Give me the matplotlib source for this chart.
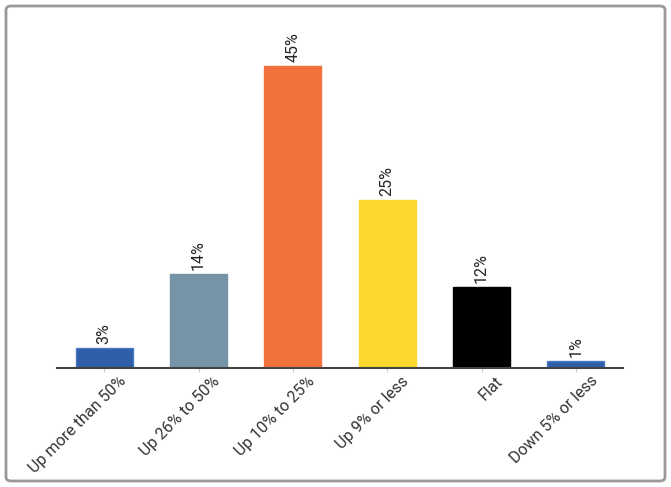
import matplotlib
matplotlib.use("Agg")
import matplotlib.pyplot as plt
import matplotlib.transforms as mtransforms
from matplotlib.patches import FancyBboxPatch

categories = ["Up more than 50%", "Up 26% to 50%", "Up 10% to 25%",
              "Up 9% or less", "Flat", "Down 5% or less"]
values = [3, 14, 45, 25, 12, 1]
colors = ["#2E5FA8", "#7594A8", "#F1723D", "#FDD92E", "#000000", "#2E5FA8"]
edges = ["#4A7BC4", "#7594A8", "#F1723D", "#FDD92E", "#000000", "#4A7BC4"]

plt.rcParams['font.family'] = ['Roboto', 'DejaVu Sans']

fig = plt.figure(figsize=(6.71, 4.87), dpi=100)
ax = fig.add_axes([57 / 671, 1 - 368 / 487, 566 / 671, 335.5 / 487])

x = range(len(categories))
ax.bar(x, values, width=0.606, color=colors, edgecolor=edges, linewidth=1)

for i, v in enumerate(values):
    ax.text(i, v + 0.6, f"{v}%", rotation=90, ha="center", va="bottom",
            fontsize=11.5, color="#222222")

ax.set_xlim(-0.5, 5.5)
ax.set_ylim(0, 50)
ax.set_yticks([])
ax.set_xticks(list(x))
ax.set_xticklabels(categories, rotation=45, ha="right", rotation_mode="anchor",
                   fontsize=11.5, color="#333333")
ax.tick_params(axis="x", length=3, color="#cccccc", pad=3)
offset = mtransforms.ScaledTranslation(0.14, 0.03, fig.dpi_scale_trans)
for lbl in ax.get_xticklabels():
    lbl.set_transform(lbl.get_transform() + offset)
for s in ["top", "right", "left"]:
    ax.spines[s].set_visible(False)
ax.spines["bottom"].set_color("#444444")
ax.spines["bottom"].set_linewidth(1.5)

border = FancyBboxPatch((6 / 671, 6 / 487), 659 / 671, 475 / 487,
                        boxstyle="round,pad=0,rounding_size=0.008",
                        transform=fig.transFigure, fill=False,
                        edgecolor="#999999", linewidth=2)
fig.patches.append(border)

fig.savefig("out.png", dpi=100)
